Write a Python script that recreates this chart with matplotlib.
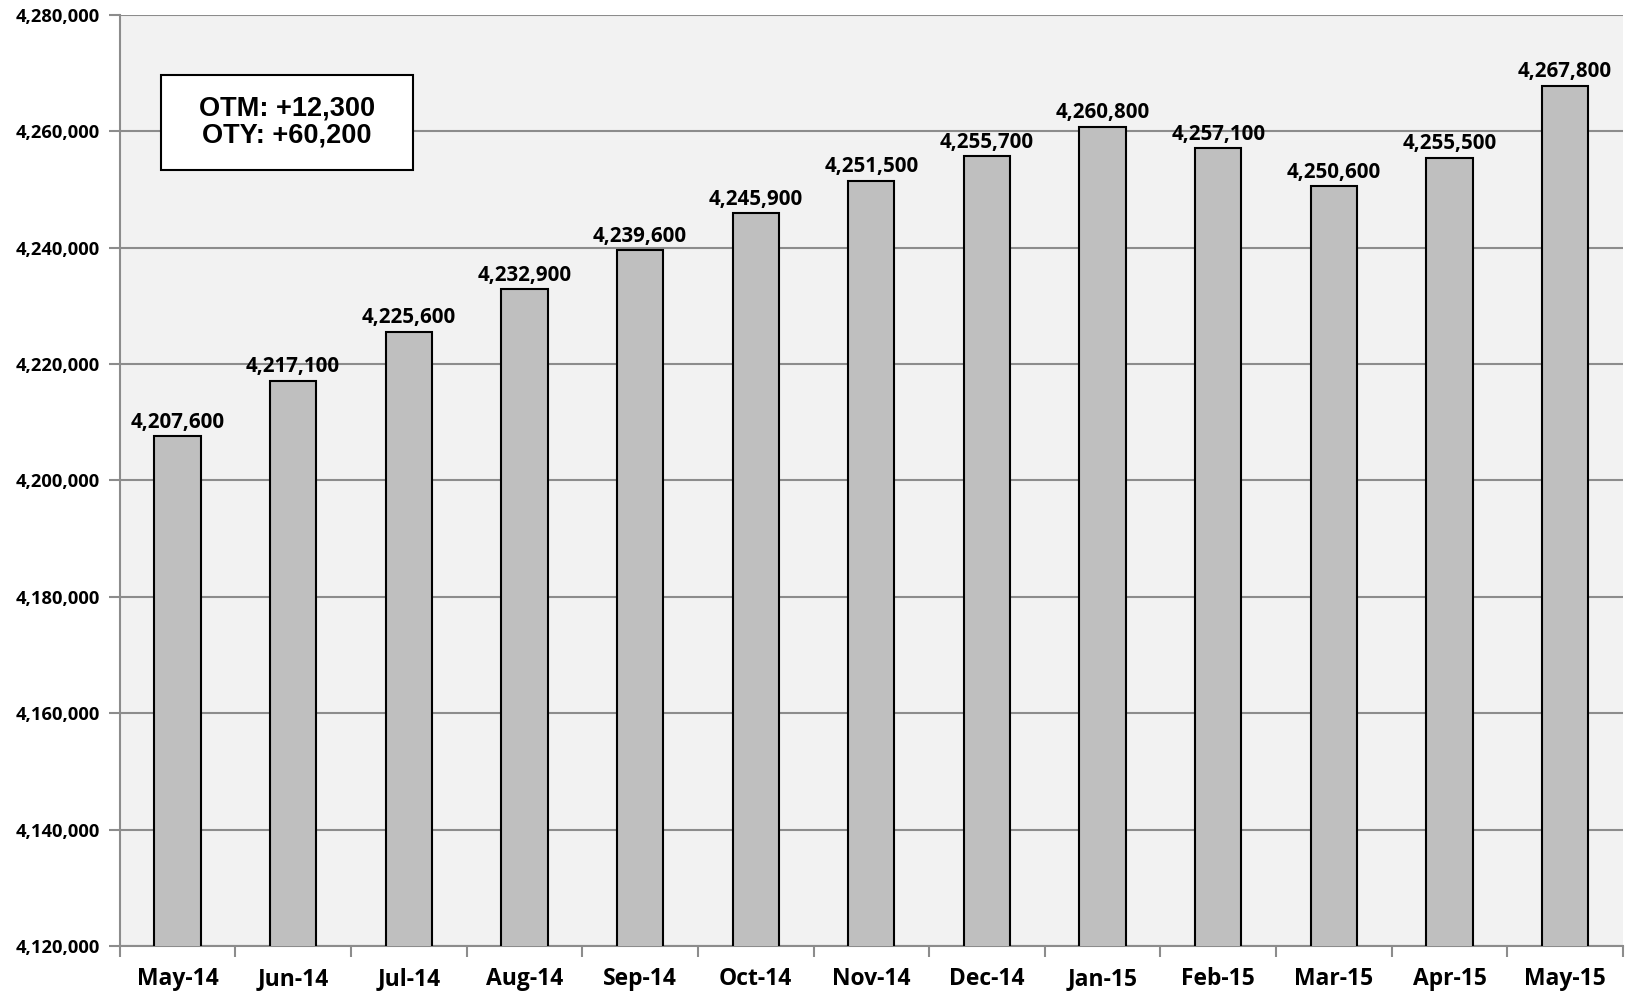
import matplotlib
matplotlib.use("Agg")
import matplotlib.pyplot as plt
from matplotlib.patches import Rectangle
import numpy as np

months = ["May-14", "Jun-14", "Jul-14", "Aug-14", "Sep-14", "Oct-14", "Nov-14",
          "Dec-14", "Jan-15", "Feb-15", "Mar-15", "Apr-15", "May-15"]
employment = [4207600, 4217100, 4225600, 4232900, 4239600, 4245900, 4251500,
              4255700, 4260800, 4257100, 4250600, 4255500, 4267800]
y_ticks = list(range(4120000, 4280001, 20000))
box_text = "OTM: +12,300\nOTY: +60,200"

label_font = "Open Sans"

fig = plt.figure(figsize=(16.4, 9.96), dpi=100)
ax = fig.add_axes([0.073, 0.0502, 0.9166, 0.9348])
ax.set_facecolor("#f2f2f2")

x = np.arange(len(months))
ax.bar(x, employment, width=0.4, color="#bfbfbf", edgecolor="black", linewidth=1.5, zorder=3)

for xi, v in zip(x, employment):
    ax.text(xi, v + 600, f"{v:,}", ha="center", va="bottom",
            fontsize=14.8, fontweight="bold", family=label_font, zorder=4)

ax.set_ylim(4120000, 4280000)
ax.set_xlim(-0.5, len(months) - 0.5)
ax.set_yticks(y_ticks)
ax.set_yticklabels([f"{t:,}" for t in y_ticks], fontsize=13.2, fontweight="bold", family=label_font)
ax.yaxis.grid(True, color="#8c8c8c", linewidth=1.5, zorder=0)

ax.set_xticks(x)
ax.set_xticklabels(months, fontsize=16.5, fontweight="bold", family=label_font)
ax.tick_params(axis="x", length=0, pad=15)
ax.set_xticks(np.arange(len(months) + 1) - 0.5, minor=True)
ax.tick_params(axis="x", which="minor", length=8, color="#8c8c8c", width=1.5)
ax.tick_params(axis="y", length=8, color="#8c8c8c", width=1.5, pad=6)

for side in ["top", "right"]:
    ax.spines[side].set_visible(False)
for side in ["left", "bottom"]:
    ax.spines[side].set_color("#8c8c8c")
    ax.spines[side].set_linewidth(1.5)

# summary box
ax.add_patch(Rectangle((0.0273, 0.8335), 0.1676, 0.1021, transform=ax.transAxes,
                       facecolor="white", edgecolor="black", linewidth=1.5, zorder=5))
ax.text(0.1111, 0.8845, box_text, transform=ax.transAxes, ha="center", va="center",
        fontsize=19.5, fontweight="bold", family="Liberation Sans", linespacing=1.05,
        zorder=6)

fig.savefig("out.png", dpi=100)
